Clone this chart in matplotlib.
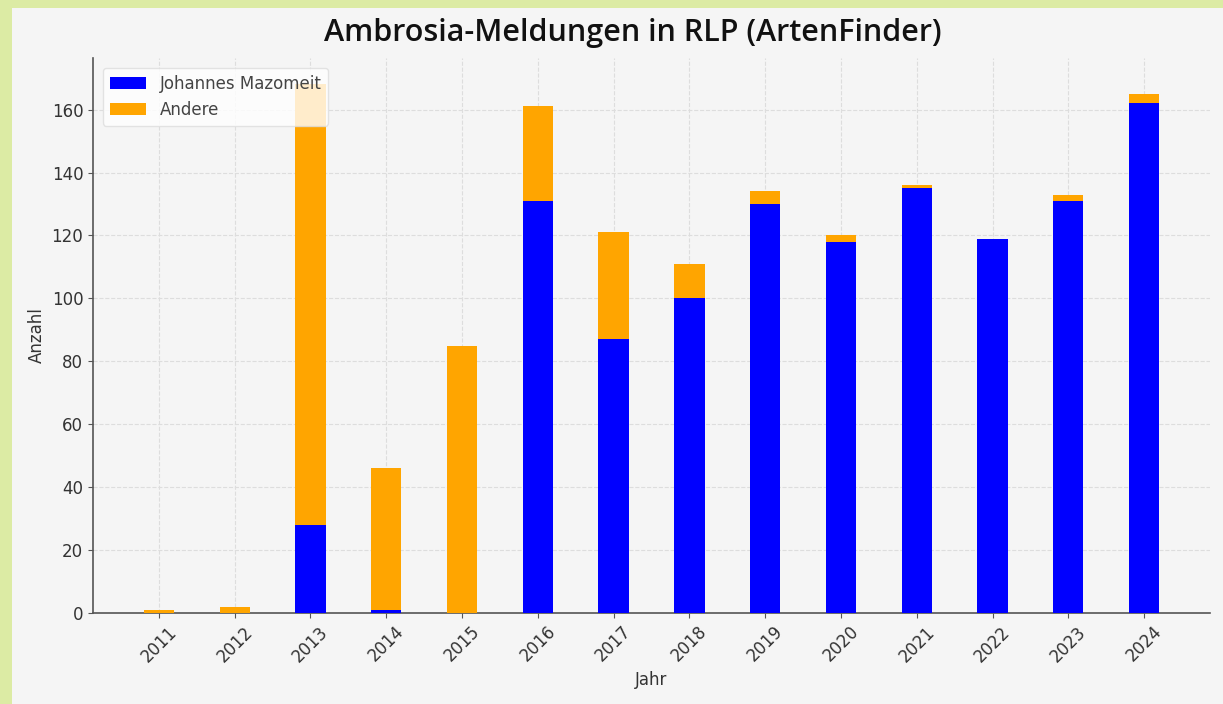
import matplotlib.pyplot as plt
from matplotlib.patches import Rectangle
import numpy as np

years = ["2011", "2012", "2013", "2014", "2015", "2016", "2017",
         "2018", "2019", "2020", "2021", "2022", "2023", "2024"]
mazomeit = [0, 0, 28, 1, 0, 131, 87, 100, 130, 118, 135, 119, 131, 162]
andere = [1, 2, 140, 45, 85, 30, 34, 11, 4, 2, 1, 0, 2, 3]

fig = plt.figure(figsize=(12.23, 7.04), dpi=100, facecolor="#dcebA4")
# inner light panel (screenshot frame)
fig.patches.append(Rectangle((12 / 1223, 0), 1 - 12 / 1223, 1 - 8 / 704,
                             transform=fig.transFigure, facecolor="#f5f5f5",
                             edgecolor="none", zorder=-5))

ax = fig.add_axes([93 / 1223, 1 - 613 / 704, (1210 - 93) / 1223, (613 - 58) / 704])
ax.set_facecolor("#f5f5f5")

x = np.arange(len(years))
ax.bar(x, mazomeit, width=0.4, color="#0000ff", label="Johannes Mazomeit", zorder=3)
ax.bar(x, andere, width=0.4, bottom=mazomeit, color="#ffa500", label="Andere", zorder=3)

ax.set_xticks(x)
ax.set_xticklabels(years, rotation=45, fontsize=12, color="#333333")
ax.tick_params(axis="y", labelsize=12, labelcolor="#333333", color="#555555")
ax.tick_params(axis="x", color="#555555")
ax.set_yticks(range(0, 161, 20))

ax.grid(True, linestyle="--", color="#dddddd", linewidth=0.8, zorder=0)
for s in ["top", "right"]:
    ax.spines[s].set_visible(False)
for s in ["left", "bottom"]:
    ax.spines[s].set_color("#555555")
    ax.spines[s].set_linewidth(1.2)

ax.set_xlabel("Jahr", fontsize=12, color="#333333")
ax.set_ylabel("Anzahl", fontsize=12, color="#333333")
fig.text(633 / 1223, 1 - 33 / 704, "Ambrosia-Meldungen in RLP (ArtenFinder)",
         ha="center", va="center", fontsize=22, fontweight="semibold",
         family="Open Sans", color="#111111")

ax.legend(loc="upper left", fontsize=12, frameon=True, framealpha=0.8,
          edgecolor="#dddddd", labelcolor="#444444", handlelength=2.2,
          borderaxespad=0.6)

fig.savefig("out.png", dpi=100, facecolor=fig.get_facecolor())
